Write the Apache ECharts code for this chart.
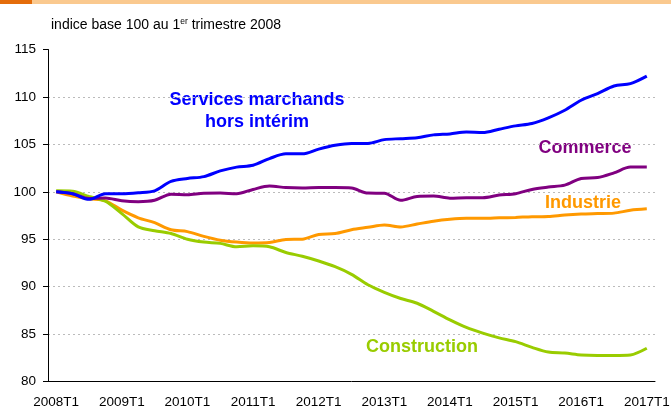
<!DOCTYPE html>
<html>
<head>
    <meta charset="utf-8"/>
    <title>indice base 100</title>
    <script src="https://cdn.jsdelivr.net/npm/echarts@6/dist/echarts.min.js"></script>
    <style>
        html, body { margin: 0; padding: 0; background: #fff; }
        #chart { width: 671px; height: 408px; }
    </style>
</head>
<body>
<div id="chart"></div>
<script>
    // trimestres 2008T1 .. 2017T1
    var quarters = [
        '2008T1', '2008T2', '2008T3', '2008T4',
        '2009T1', '2009T2', '2009T3', '2009T4',
        '2010T1', '2010T2', '2010T3', '2010T4',
        '2011T1', '2011T2', '2011T3', '2011T4',
        '2012T1', '2012T2', '2012T3', '2012T4',
        '2013T1', '2013T2', '2013T3', '2013T4',
        '2014T1', '2014T2', '2014T3', '2014T4',
        '2015T1', '2015T2', '2015T3', '2015T4',
        '2016T1', '2016T2', '2016T3', '2016T4',
        '2017T1'
    ];
    var services = [100, 99.8, 99.2, 99.8, 99.8, 99.9, 100.1, 101.1, 101.4, 101.6, 102.2, 102.6, 102.8, 103.5, 104.0, 104.0,
        104.5, 104.9, 105.1, 105.1, 105.5, 105.6, 105.7, 106.0, 106.1, 106.3, 106.25, 106.6, 106.95, 107.2, 107.8, 108.6,
        109.65, 110.35, 111.15, 111.4, 112.2];
    var commerce = [100, 99.8, 99.3, 99.35, 99.05, 98.95, 99.1, 99.75, 99.7, 99.85, 99.86, 99.8, 100.25, 100.6, 100.45, 100.4,
        100.45, 100.45, 100.4, 99.86, 99.85, 99.1, 99.5, 99.55, 99.33, 99.37, 99.37, 99.65, 99.8, 100.25, 100.5, 100.7,
        101.4, 101.5, 102.0, 102.6, 102.6];
    var industrie = [100, 99.55, 99.26, 99.05, 98.06, 97.26, 96.74, 96.0, 95.8, 95.3, 94.9, 94.7, 94.6, 94.65, 94.97, 95.0,
        95.5, 95.6, 96.0, 96.25, 96.5, 96.3, 96.6, 96.9, 97.1, 97.2, 97.2, 97.25, 97.3, 97.37, 97.4, 97.55,
        97.65, 97.7, 97.75, 98.05, 98.2];
    var construction = [100.1, 100.05, 99.5, 99.0, 97.7, 96.3, 95.9, 95.6, 95.0, 94.7, 94.56, 94.2, 94.3, 94.2, 93.6, 93.2,
        92.7, 92.1, 91.3, 90.2, 89.4, 88.75, 88.25, 87.4, 86.5, 85.7, 85.1, 84.6, 84.2, 83.6, 83.1, 83.0,
        82.8, 82.75, 82.75, 82.8, 83.5];
    var yTicks = {min: 80, max: 115, step: 5};

    var font = 'Arial, "Liberation Sans", sans-serif';
    var chart = echarts.init(document.getElementById('chart'), null, {renderer: 'canvas'});

    function line(name, color, data) {
        return {
            name: name,
            type: 'line',
            data: data,
            smooth: 0.3,
            symbol: 'none',
            lineStyle: {color: color, width: 3},
            itemStyle: {color: color},
            animation: false
        };
    }

    var option = {
        backgroundColor: '#fff',
        animation: false,
        title: {
            left: 46,
            top: 12,
            text: '{a|indice base 100 au 1}{s|er}{a| trimestre 2008}',
            textStyle: {
                fontWeight: 'normal',
                rich: {
                    a: {fontFamily: font, fontSize: 14, fontWeight: 'normal', color: '#000', lineHeight: 17},
                    s: {fontFamily: font, fontSize: 8.5, fontWeight: 'normal', color: '#000', verticalAlign: 'top', lineHeight: 17}
                }
            }
        },
        grid: {left: 48, right: 16, top: 49.5, bottom: 26.5, containLabel: false, outerBoundsMode: 'none'},
        xAxis: {
            type: 'category',
            data: quarters,
            boundaryGap: true,
            axisLine: {lineStyle: {color: '#000', width: 1}},
            axisTick: {interval: 3, length: 5, lineStyle: {color: '#000'}},
            axisLabel: {interval: 3, margin: 14, color: '#000', fontFamily: font, fontSize: 13.5},
            splitLine: {show: false}
        },
        yAxis: {
            type: 'value',
            min: yTicks.min,
            max: yTicks.max,
            interval: yTicks.step,
            axisLine: {show: true, lineStyle: {color: '#000', width: 1}},
            axisTick: {show: true, length: 5, lineStyle: {color: '#000'}},
            axisLabel: {margin: 12, color: '#000', fontFamily: font, fontSize: 13.5},
            splitLine: {
                show: true,
                showMaxLine: false,
                lineStyle: {color: '#bbb', type: [2, 3], width: 1}
            }
        },
        series: [
            line('Industrie', '#FF9900', industrie),
            line('Construction', '#99CC00', construction),
            line('Commerce', '#800080', commerce),
            line('Services marchands hors intérim', '#0000FF', services)
        ],
        graphic: [
            {type: 'rect', left: 0, top: 0, shape: {width: 671, height: 4}, style: {fill: '#FAC98F'}},
            {type: 'rect', left: 0, top: 0, shape: {width: 32, height: 4}, style: {fill: '#E46C0A'}},
            {
                type: 'text', x: 257, y: 111,
                style: {
                    text: 'Services marchands\nhors intérim', fill: '#0000FF',
                    font: 'bold 18px ' + font, align: 'center', verticalAlign: 'middle', lineHeight: 22
                }
            },
            {
                type: 'text', x: 585, y: 148,
                style: {text: 'Commerce', fill: '#800080', font: 'bold 18px ' + font, align: 'center', verticalAlign: 'middle'}
            },
            {
                type: 'text', x: 583, y: 203,
                style: {text: 'Industrie', fill: '#FF9900', font: 'bold 18px ' + font, align: 'center', verticalAlign: 'middle'}
            },
            {
                type: 'text', x: 422, y: 347,
                style: {text: 'Construction', fill: '#99CC00', font: 'bold 18px ' + font, align: 'center', verticalAlign: 'middle'}
            }
        ]
    };
    chart.setOption(option);
</script>
</body>
</html>
